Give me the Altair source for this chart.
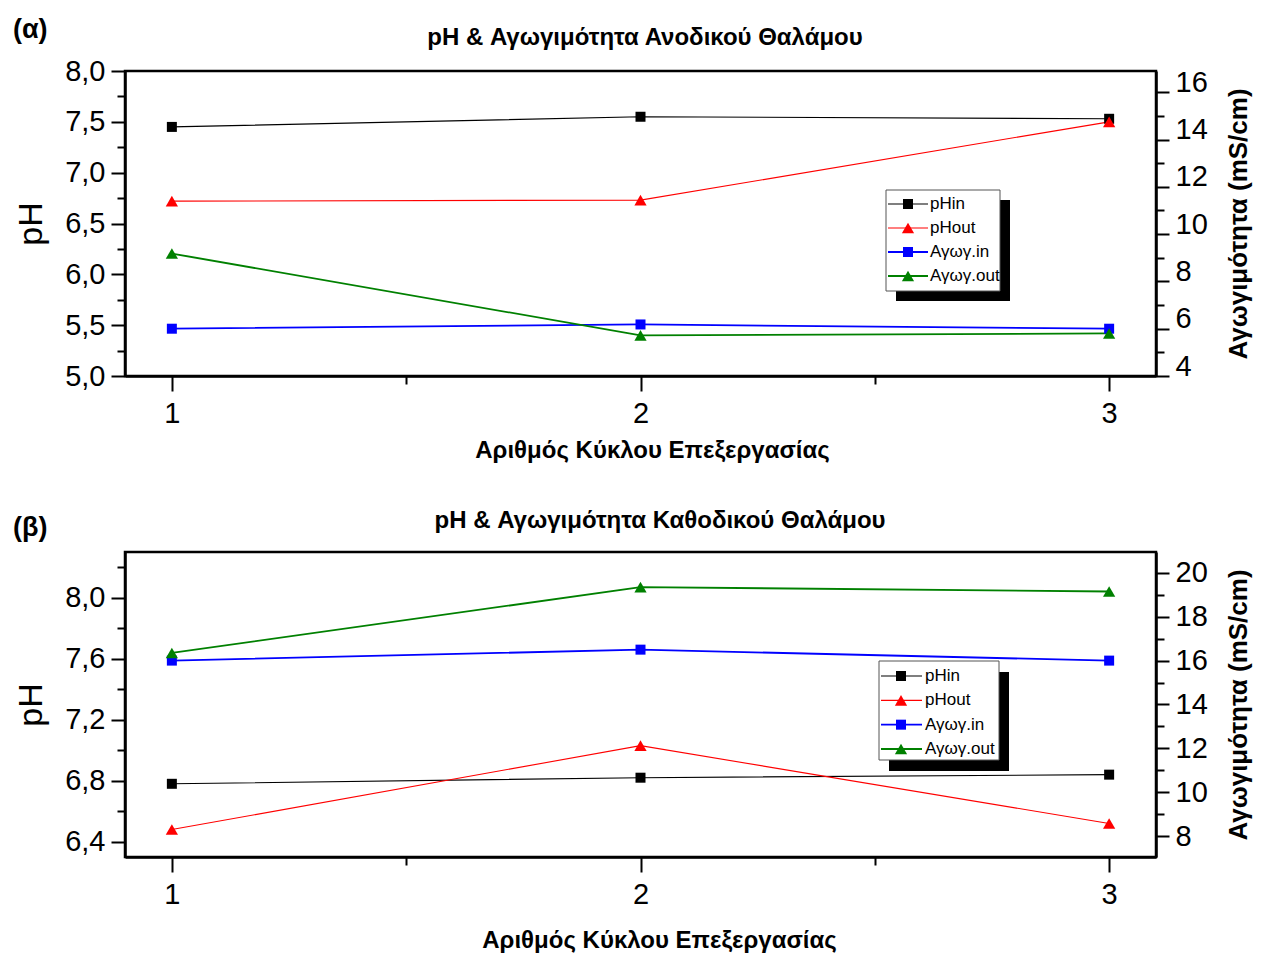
import altair as alt
import pandas as pd

# ---------------- data ----------------
cycles = [1, 2, 3]
series_names = ["pHin", "pHout", "Αγωγ.in", "Αγωγ.out"]
series_colors = ["#000000", "#ff0000", "#0000ff", "#008000"]
series_axis = ["ph", "ph", "cond", "cond"]
series_marker = ["square", "triangle", "square", "triangle"]
series_lw = [1.1, 1.1, 1.8, 1.8]

# (α) anode chamber
a_phin = [7.45, 7.55, 7.53]
a_phout = [6.72, 6.73, 7.50]
a_cond_in = [6.0, 6.18, 6.0]
a_cond_out = [9.18, 5.72, 5.8]

# (β) cathode chamber
b_phin = [6.78, 6.82, 6.84]
b_phout = [6.48, 7.03, 6.52]
b_cond_in = [16.0, 16.5, 16.0]
b_cond_out = [16.35, 19.35, 19.15]

x_ticks = [1, 1.5, 2, 2.5, 3]
a_left_ticks = [5.0, 5.25, 5.5, 5.75, 6.0, 6.25, 6.5, 6.75, 7.0, 7.25, 7.5, 7.75, 8.0]
a_right_ticks = [4, 5, 6, 7, 8, 9, 10, 11, 12, 13, 14, 15, 16]
b_left_ticks = [6.4, 6.6, 6.8, 7.0, 7.2, 7.4, 7.6, 7.8, 8.0, 8.2]
b_right_ticks = [8, 9, 10, 11, 12, 13, 14, 15, 16, 17, 18, 19, 20]

FONT = "Liberation Sans"
W, H = 1031, 305


def long_df(values_list):
    rows = []
    for name, ax, mk, lw, vals in zip(series_names, series_axis, series_marker, series_lw, values_list):
        for c, v in zip(cycles, vals):
            rows.append(dict(cycle=c, series=name, axis=ax, marker=mk, lw=lw, value=v))
    return pd.DataFrame(rows)


legend_df = pd.DataFrame({
    "series": series_names, "marker": series_marker, "lw": series_lw, "idx": [0, 1, 2, 3],
})


def panel(df, letter, letter_y, title, title_x, title_y,
          left_dom, left_ticks, left_label_test,
          right_dom, right_ticks, right_label_offset,
          xtitle_x, xtitle_y, leg):
    color_scale = alt.Scale(domain=series_names, range=series_colors)
    color = alt.Color("series:N", scale=color_scale, legend=None)
    x_enc = alt.X(
        "cycle:Q",
        scale=alt.Scale(domain=[0.9, 3.1], nice=False, zero=False),
        axis=alt.Axis(
            values=x_ticks,
            labelExpr="datum.value % 1 === 0 ? format(datum.value, 'd') : ''",
            tickSize={"condition": {"test": "datum.value % 1 !== 0", "value": 8}, "value": 15},
            labelPadding=8,
            title="Αριθμός Κύκλου Επεξεργασίας",
            titleFontSize=24,
            titleFontWeight="bold",
            titleX=xtitle_x,
            titleY=xtitle_y,
            titleBaseline="middle",
            labelFlush=False,
        ),
    )
    y_left = alt.Y(
        "value:Q",
        scale=alt.Scale(domain=left_dom, nice=False, zero=False),
        axis=alt.Axis(
            orient="left",
            values=left_ticks,
            labelExpr=f"{left_label_test} ? replace(format(datum.value, '.1f'), '.', ',') : ''",
            tickSize={"condition": {"test": left_label_test, "value": 14}, "value": 8},
            labelPadding=6,
            title="pH",
            titleFontSize=34,
            titleFontWeight="normal",
            titlePadding=16,
            labelFlush=False,
        ),
    )
    y_right = alt.Y(
        "value:Q",
        scale=alt.Scale(domain=right_dom, nice=False, zero=False),
        axis=alt.Axis(
            orient="right",
            values=right_ticks,
            labelExpr="datum.value % 2 === 0 ? format(datum.value, 'd') : ''",
            tickSize={"condition": {"test": "datum.value % 2 === 0", "value": 13}, "value": 8},
            labelPadding=6,
            labelOffset=right_label_offset,
            title="Αγωγιμότητα (mS/cm)",
            titleFontSize=26,
            titleFontWeight="bold",
            titleAngle=270,
            titleBaseline="top",
            titlePadding=18,
            labelFlush=False,
        ),
    )
    base = alt.Chart(df)
    lw_enc = alt.StrokeWidth("lw:Q", scale=None)

    def axis_layer(ax, y_enc):
        b = base.transform_filter(alt.datum.axis == ax)
        line = b.mark_line().encode(x=x_enc, y=y_enc, color=color, strokeWidth=lw_enc)
        sq = b.transform_filter(alt.datum.marker == "square").mark_point(
            shape="square", filled=True, size=100, opacity=1).encode(x=x_enc, y=y_enc, color=color)
        tri = b.transform_filter(alt.datum.marker == "triangle").mark_point(
            shape="triangle-up", filled=True, size=150, opacity=1).encode(x=x_enc, y=y_enc, color=color)
        return alt.layer(line, sq, tri)

    # ---- hand-built legend box with drop shadow ----
    bx0, bx1, by0, by1 = leg["box"]
    sdx, sdy = leg["shadow"]
    one = alt.Chart(pd.DataFrame({"t": [letter], "title": [title]}))
    shadow = one.mark_rect(color="black").encode(
        x=alt.value(bx0 + sdx), x2=alt.value(bx1 + sdx),
        y=alt.value(by0 + sdy), y2=alt.value(by1 + sdy))
    box = one.mark_rect(fill="white", stroke="#555555", strokeWidth=1).encode(
        x=alt.value(bx0), x2=alt.value(bx1), y=alt.value(by0), y2=alt.value(by1))
    lg = alt.Chart(legend_df)
    leg_y = alt.Y("idx:Q", scale=alt.Scale(domain=[0, 3], range=leg["rows"], nice=False, zero=False),
                  axis=None)
    seg = lg.mark_rule().encode(x=alt.value(leg["seg"][0]), x2=alt.value(leg["seg"][1]),
                                y=leg_y, color=color, strokeWidth=lw_enc)
    lsq = lg.transform_filter(alt.datum.marker == "square").mark_point(
        shape="square", filled=True, size=100, opacity=1).encode(
        x=alt.value(leg["mark_x"]), y=leg_y, color=color)
    ltri = lg.transform_filter(alt.datum.marker == "triangle").mark_point(
        shape="triangle-up", filled=True, size=150, opacity=1).encode(
        x=alt.value(leg["mark_x"]), y=leg_y, color=color)
    ltxt = lg.mark_text(font=FONT, fontSize=17, align="left", baseline="middle", color="black").encode(
        x=alt.value(leg["text_x"]), y=leg_y, text="series:N")
    legend = alt.layer(seg, lsq, ltri, ltxt)

    letter_mark = one.mark_text(font=FONT, fontSize=27, fontWeight="bold", align="left",
                                baseline="middle", color="black").encode(
        text="t:N", x=alt.value(-112), y=alt.value(letter_y))
    title_mark = one.mark_text(font=FONT, fontSize=24, fontWeight="bold", align="center",
                               baseline="middle", color="black").encode(
        text="title:N", x=alt.value(title_x), y=alt.value(title_y))

    ph = axis_layer("ph", y_left)
    cond = axis_layer("cond", y_right)
    return alt.layer(ph, cond, shadow, box, legend, letter_mark, title_mark).resolve_scale(
        y="independent"
    ).properties(width=W, height=H)


pa = panel(long_df([a_phin, a_phout, a_cond_in, a_cond_out]), "(α)", -41,
           "pH & Αγωγιμότητα Ανοδικού Θαλάμου", 520, -33,
           [5.0, 8.0], a_left_ticks, "abs(round(datum.value * 4)) % 2 === 0",
           [4, 16.9], a_right_ticks, -10,
           527, 74,
           dict(box=(761, 875, 119, 220), shadow=(10, 10), rows=[133, 205],
                seg=(763, 803), mark_x=783, text_x=805))
pb = panel(long_df([b_phin, b_phout, b_cond_in, b_cond_out]), "(β)", -24,
           "pH & Αγωγιμότητα Καθοδικού Θαλάμου", 535, -31,
           [6.3, 8.3], b_left_ticks, "abs(round(datum.value * 5)) % 2 === 0",
           [7.05, 20.95], b_right_ticks, 0,
           534, 83,
           dict(box=(754, 874, 109, 208), shadow=(10, 11), rows=[124, 197],
                seg=(756, 797), mark_x=776, text_x=800))

chart = alt.vconcat(pa, pb, spacing=43).resolve_scale(
    color="independent"
).configure_view(
    stroke="black", strokeWidth=2.5
).configure_axis(
    domainColor="black", domainWidth=2.5, tickColor="black", tickWidth=2,
    labelFont=FONT, labelFontSize=29, labelColor="black",
    titleFont=FONT, titleColor="black", grid=False,
).properties(
    padding={"left": 11, "top": 14, "right": 5, "bottom": 0},
    background="white",
)

chart.save("out.html", embed_options={"renderer": "svg", "actions": False})
